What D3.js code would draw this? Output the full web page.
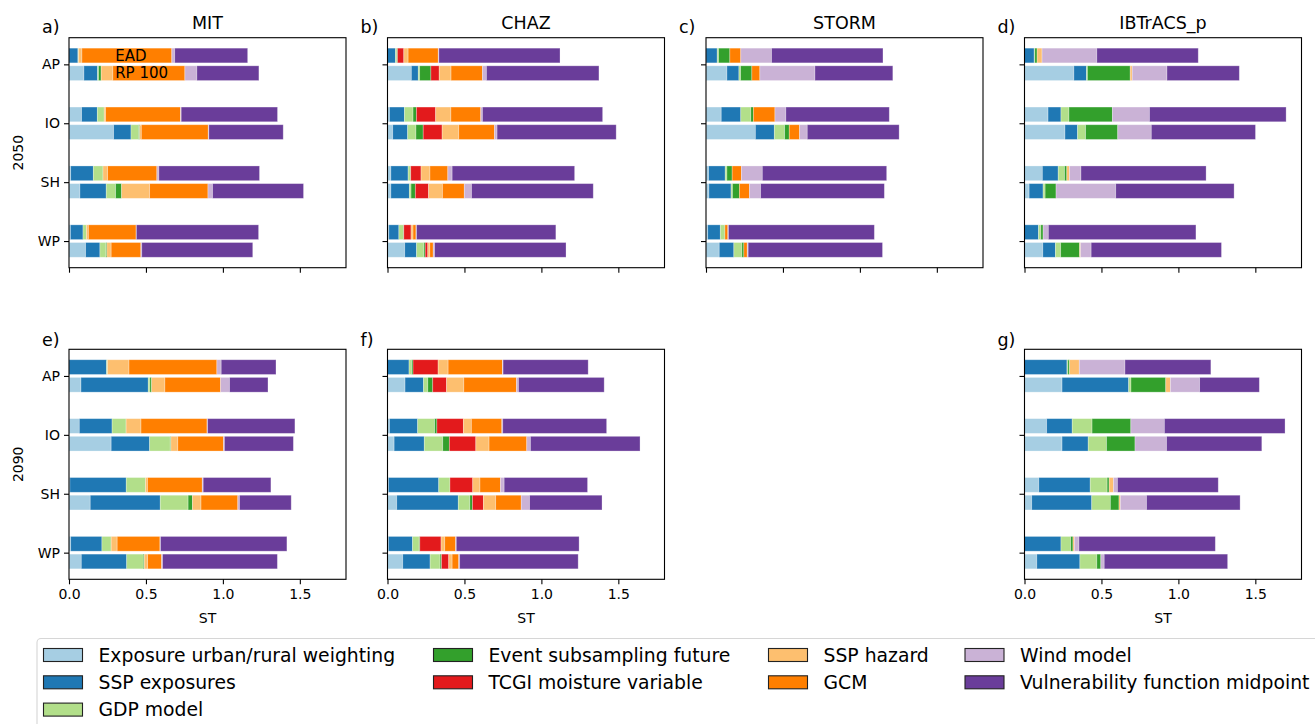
<!DOCTYPE html>
<html>
<head>
<meta charset="utf-8">
<script src="https://cdn.jsdelivr.net/npm/d3@7"></script>
<style>
  body { margin: 0; background: #fff; }
  text { font-family: "DejaVu Sans", sans-serif; fill: #000; }
</style>
</head>
<body>
<div id="plot"></div>
<script>
// factors, in stacking order
var factors = ["Exposure urban/rural weighting", "SSP exposures", "GDP model",
    "Event subsampling future", "TCGI moisture variable", "SSP hazard", "GCM",
    "Wind model", "Vulnerability function midpoint"];
var colors = ["#a6cee3", "#1f78b4", "#b2df8a", "#33a02c", "#e31a1c",
    "#fdbf6f", "#ff7f00", "#cab2d6", "#6a3d9a"];
var regions = ["AP", "IO", "SH", "WP"];
var xTicks = [0, 0.5, 1.0, 1.5];

// one row per region (AP, IO, SH, WP), one value per factor
var mit2050EAD = [
    [0, 0.058, 0.004, 0, 0, 0.022, 0.584, 0.019, 0.474],
    [0.082, 0.102, 0.045, 0, 0, 0.009, 0.487, 0.004, 0.626],
    [0.011, 0.147, 0.063, 0, 0, 0.030, 0.320, 0.013, 0.654],
    [0.009, 0.082, 0.022, 0, 0, 0.013, 0.310, 0.002, 0.794]];
var mit2050RP = [
    [0.097, 0.089, 0.006, 0.017, 0, 0.076, 0.468, 0.078, 0.403],
    [0.290, 0.113, 0.050, 0.006, 0, 0.011, 0.435, 0.004, 0.483],
    [0.071, 0.171, 0.061, 0.039, 0, 0.182, 0.379, 0.030, 0.591],
    [0.108, 0.093, 0.039, 0.006, 0, 0.028, 0.193, 0.006, 0.721]];
var chaz2050EAD = [
    [0, 0.052, 0.009, 0.004, 0.041, 0.028, 0.196, 0.004, 0.787],
    [0.013, 0.097, 0.056, 0.022, 0.125, 0.099, 0.194, 0.011, 0.781],
    [0.022, 0.112, 0.017, 0, 0.067, 0.058, 0.116, 0.028, 0.796],
    [0.009, 0.065, 0.030, 0.002, 0.047, 0.013, 0.019, 0.004, 0.905]];
var chaz2050RP = [
    [0.155, 0.045, 0.009, 0.073, 0.054, 0.077, 0.204, 0.026, 0.731],
    [0.034, 0.097, 0.054, 0.047, 0.123, 0.108, 0.232, 0.017, 0.774],
    [0.022, 0.120, 0.011, 0.028, 0.086, 0.090, 0.142, 0.047, 0.791],
    [0.112, 0.077, 0.047, 0.009, 0.017, 0.013, 0.022, 0.009, 0.854]];
var storm2050EAD = [
    [0, 0.073, 0.009, 0.073, 0, 0, 0.071, 0.200, 0.724],
    [0.099, 0.127, 0.065, 0.017, 0, 0, 0.140, 0.071, 0.672],
    [0.017, 0.108, 0.011, 0.034, 0, 0, 0.060, 0.136, 0.808],
    [0.011, 0.082, 0.030, 0, 0, 0, 0.019, 0.004, 0.948]];
var storm2050RP = [
    [0.136, 0.078, 0.011, 0.073, 0, 0, 0.052, 0.358, 0.506],
    [0.321, 0.123, 0.067, 0.030, 0, 0, 0.067, 0.050, 0.597],
    [0.019, 0.144, 0.009, 0.045, 0, 0, 0.065, 0.073, 0.804],
    [0.086, 0.095, 0.052, 0.013, 0, 0, 0.022, 0.006, 0.873]];
var ibtracs2050EAD = [
    [0, 0.063, 0.004, 0.015, 0, 0.032, 0, 0.356, 0.659],
    [0.153, 0.084, 0.052, 0.282, 0, 0, 0, 0.241, 0.888],
    [0.116, 0.103, 0.041, 0.015, 0, 0.017, 0, 0.075, 0.813],
    [0, 0.091, 0.015, 0.015, 0, 0, 0, 0.034, 0.959]];
var ibtracs2050RP = [
    [0.321, 0.082, 0.006, 0.278, 0, 0.013, 0, 0.226, 0.470],
    [0.263, 0.082, 0.052, 0.209, 0, 0, 0, 0.218, 0.677],
    [0.030, 0.091, 0.013, 0.071, 0, 0, 0, 0.388, 0.769],
    [0.119, 0.082, 0.034, 0.123, 0, 0.006, 0, 0.069, 0.847]];
var mit2090EAD = [
    [0, 0.244, 0.006, 0, 0, 0.140, 0.571, 0.028, 0.356],
    [0.067, 0.213, 0.091, 0, 0, 0.097, 0.429, 0.004, 0.567],
    [0.006, 0.366, 0.125, 0, 0, 0.013, 0.356, 0.006, 0.440],
    [0.011, 0.203, 0.060, 0, 0, 0.039, 0.278, 0.004, 0.821]];
var mit2090RP = [
    [0.078, 0.437, 0.011, 0.011, 0, 0.086, 0.362, 0.058, 0.250],
    [0.274, 0.250, 0.134, 0.004, 0, 0.045, 0.297, 0.006, 0.448],
    [0.138, 0.455, 0.181, 0.028, 0, 0.056, 0.239, 0.011, 0.336],
    [0.080, 0.295, 0.108, 0.006, 0, 0.022, 0.091, 0.006, 0.746]];
var chaz2090EAD = [
    [0, 0.140, 0.017, 0.009, 0.163, 0.065, 0.353, 0.004, 0.553],
    [0.013, 0.183, 0.110, 0.015, 0.172, 0.052, 0.198, 0.006, 0.675],
    [0.006, 0.327, 0.073, 0, 0.148, 0.047, 0.133, 0.024, 0.542],
    [0.006, 0.157, 0.043, 0.004, 0.138, 0.024, 0.071, 0.004, 0.798]];
var chaz2090RP = [
    [0.114, 0.120, 0.028, 0.032, 0.090, 0.112, 0.342, 0.013, 0.557],
    [0.043, 0.196, 0.120, 0.043, 0.172, 0.086, 0.245, 0.024, 0.712],
    [0.060, 0.400, 0.075, 0.017, 0.071, 0.080, 0.166, 0.054, 0.471],
    [0.099, 0.178, 0.065, 0.009, 0.047, 0.022, 0.043, 0.006, 0.770]];
var ibtracs2090EAD = [
    [0, 0.276, 0.006, 0.011, 0, 0.063, 0, 0.297, 0.558],
    [0.144, 0.166, 0.129, 0.252, 0, 0, 0, 0.218, 0.784],
    [0.093, 0.334, 0.110, 0.013, 0, 0.028, 0, 0.026, 0.655],
    [0, 0.237, 0.063, 0.015, 0, 0.009, 0, 0.030, 0.886]];
var ibtracs2090RP = [
    [0.244, 0.433, 0.015, 0.226, 0, 0.030, 0, 0.190, 0.388],
    [0.244, 0.170, 0.119, 0.185, 0, 0, 0, 0.205, 0.619],
    [0.047, 0.390, 0.121, 0.056, 0, 0.009, 0, 0.170, 0.608],
    [0.080, 0.280, 0.110, 0.026, 0, 0, 0, 0.022, 0.802]];

var panels = [
    {letter: "a)", title: "MIT", row: 0, col: 0, ead: mit2050EAD, rp: mit2050RP},
    {letter: "b)", title: "CHAZ", row: 0, col: 1, ead: chaz2050EAD, rp: chaz2050RP},
    {letter: "c)", title: "STORM", row: 0, col: 2, ead: storm2050EAD, rp: storm2050RP},
    {letter: "d)", title: "IBTrACS_p", row: 0, col: 3, ead: ibtracs2050EAD, rp: ibtracs2050RP},
    {letter: "e)", title: "", row: 1, col: 0, ead: mit2090EAD, rp: mit2090RP},
    {letter: "f)", title: "", row: 1, col: 1, ead: chaz2090EAD, rp: chaz2090RP},
    {letter: "g)", title: "", row: 1, col: 3, ead: ibtracs2090EAD, rp: ibtracs2090RP}
];
var rowLabels = ["2050", "2090"];

var width = 1315, height = 724;
var pw = 277, ph = 230;
var lefts = [69, 387.5, 706, 1024.5];
var tops = [37.7, 349.3];

var svg = d3.select("#plot").append("svg").attr("width", width).attr("height", height);

var xScale = d3.scaleLinear().domain([0, 1.8]).range([0, pw]);
var yScale = d3.scaleLinear().domain([-0.4525, 3.4525]).range([0, ph]);
var barH = yScale(0.25) - yScale(0);

panels.forEach(function(p) {
    var g = svg.append("g").attr("transform", "translate(" + lefts[p.col] + "," + tops[p.row] + ")");

    // stacked bars: EAD above the tick, RP 100 below
    [{vals: p.ead, off: -0.15}, {vals: p.rp, off: 0.15}].forEach(function(s) {
        s.vals.forEach(function(v, ri) {
            var ends = d3.cumsum(v);
            g.append("g").selectAll("rect")
                .data(v.map(function(d, i) { return {x0: ends[i] - d, x1: ends[i], i: i}; })
                    .filter(function(d) { return d.x1 > d.x0; }))
                .enter()
                .append("rect")
                .attr("x", function(d) { return xScale(d.x0); })
                .attr("y", yScale(ri + s.off) - barH / 2)
                .attr("width", function(d) { return xScale(d.x1) - xScale(d.x0); })
                .attr("height", barH)
                .attr("fill", function(d) { return colors[d.i]; })
                .attr("stroke", "#fff")
                .attr("stroke-opacity", 0.35)
                .attr("stroke-width", 0.8);
        });
    });

    // axes
    var xAxis = d3.axisBottom(xScale).tickValues(xTicks).tickSize(5).tickPadding(5)
        .tickFormat(p.row === 1 ? d3.format(".1f") : function() { return ""; });
    var gx = g.append("g").attr("transform", "translate(0," + ph + ")").call(xAxis);
    var yAxis = d3.axisLeft(yScale).tickValues([0, 1, 2, 3]).tickSize(5).tickPadding(4)
        .tickFormat(p.col === 0 ? function(d) { return regions[d]; } : function() { return ""; });
    var gy = g.append("g").call(yAxis);
    [gx, gy].forEach(function(a) {
        a.select(".domain").remove();
        a.selectAll("line").attr("stroke", "#000").attr("stroke-width", 1.1);
        a.selectAll("text").attr("font-size", 14).attr("font-family", "DejaVu Sans").attr("fill", "#000");
    });

    g.append("rect").attr("width", pw).attr("height", ph)
        .attr("fill", "none").attr("stroke", "#000").attr("stroke-width", 1.1);

    if (p.title) {
        g.append("text").attr("x", pw / 2).attr("y", -9).attr("text-anchor", "middle")
            .attr("font-size", 17.5).text(p.title);
    }
    g.append("text").attr("x", -27).attr("y", p.row === 0 ? -5 : -3.5)
        .attr("font-size", 17.5).text(p.letter);

    if (p.row === 1) {
        g.append("text").attr("x", pw / 2).attr("y", ph + 44).attr("text-anchor", "middle")
            .attr("font-size", 14).text("ST");
    }
    if (p.col === 0) {
        g.append("text").attr("transform", "translate(-46," + ph / 2 + ") rotate(-90)")
            .attr("text-anchor", "middle").attr("font-size", 14).text(rowLabels[p.row]);
    }
    if (p.row === 0 && p.col === 0) {
        g.append("text").attr("x", xScale(0.3)).attr("y", yScale(-0.15)).attr("dy", "0.35em")
            .attr("font-size", 15).text("EAD");
        g.append("text").attr("x", xScale(0.3)).attr("y", yScale(0.15)).attr("dy", "0.35em")
            .attr("font-size", 15).text("RP 100");
    }
});

// legend (cut by the page edge, as in the figure)
var legend = svg.append("g");
legend.append("rect").attr("x", 37).attr("y", 638.5).attr("width", 1300).attr("height", 110)
    .attr("rx", 4).attr("fill", "#fff").attr("stroke", "#d6d6d6").attr("stroke-width", 1.1);
var colX = [43.5, 433.5, 768.5, 965];
var rowY = [655, 682.3, 709.6];
var perCol = [3, 2, 2, 2];
var idx = 0;
perCol.forEach(function(n, c) {
    for (var r = 0; r < n; r++) {
        var item = legend.append("g").attr("transform", "translate(" + colX[c] + "," + rowY[r] + ")");
        item.append("rect").attr("x", 0).attr("y", -6.5).attr("width", 39).attr("height", 13)
            .attr("fill", colors[idx]).attr("stroke", "#222").attr("stroke-width", 1.1);
        item.append("text").attr("x", 55).attr("dy", "0.36em").attr("font-size", 18.8).text(factors[idx]);
        idx++;
    }
});
</script>
</body>
</html>
